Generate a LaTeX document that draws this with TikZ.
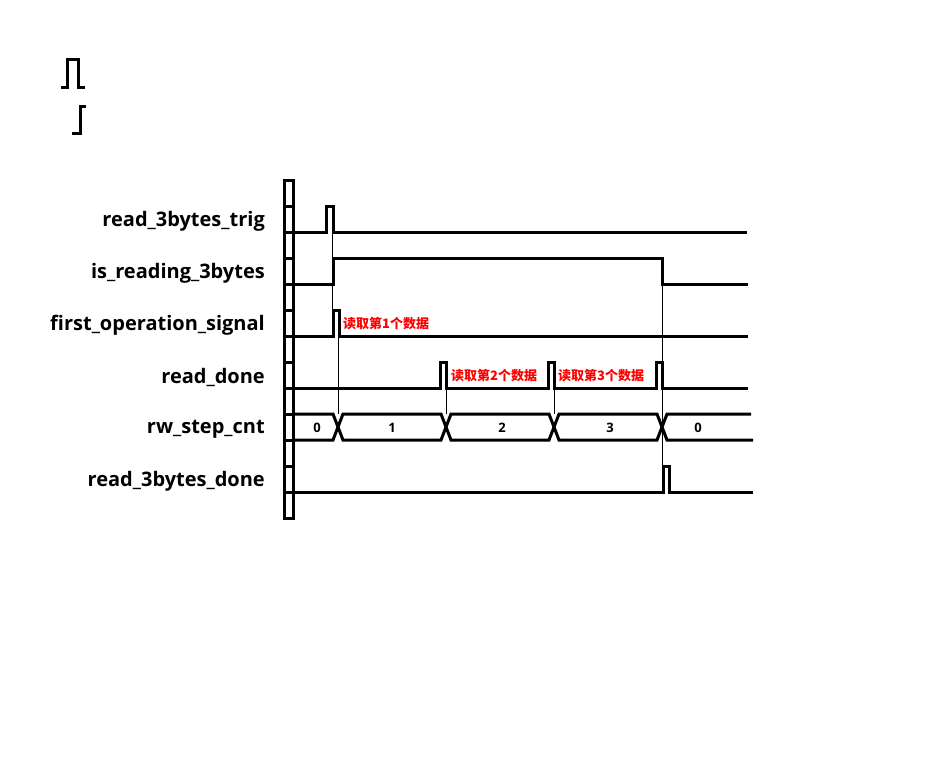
\documentclass[tikz,border=0pt]{standalone}
\usepackage{fontspec}
\usepackage{tikz}
\usetikzlibrary{positioning}
\newfontfamily\lab{Open Sans}
\newfontfamily\cjk{Noto Sans CJK SC}

\begin{document}
\begin{tikzpicture}[x=1pt,y=-1pt,
	wave/.style={line width=3pt},
	guide/.style={line width=0.8pt},
	sig/.style={anchor=east,inner sep=0pt,font=\lab\bfseries\fontsize{20}{20}\selectfont},
	note/.style={anchor=west,inner sep=0pt,text=red,font=\cjk\bfseries\fontsize{13}{13}\selectfont},
	val/.style={inner sep=0pt,font=\lab\bfseries\fontsize{13}{13}\selectfont}]
	\useasboundingbox (0,0) rectangle (928,776);
	
	% legend symbols
	\draw[wave] (61,87) -- (67,87) -- (67,60) -- (78,60) -- (78,87) -- (85,87);
	\draw[wave] (72,133) -- (80,133) -- (80,106) -- (86,106);
	
	% ruler
	\draw[wave] (284,180) rectangle (293,518);
	\foreach \y in {206,232,...,492}
	\draw[wave] (284,\y) -- (293,\y);
	
	% signal names
	\foreach \n/\t [count=\i from 0] in {trig/read\_3bytes\_trig,reading/is\_reading\_3bytes,first/first\_operation\_signal,done/read\_done,cnt/rw\_step\_cnt,alldone/read\_3bytes\_done}
	\node[sig] (\n) at (265,221+52*\i) {\t};
	
	% waves
	\draw[wave] (293,232) -- (326,232) -- (326,206) -- (333,206) -- (333,232) -- (747,232);
	\draw[wave] (293,284) -- (333,284) -- (333,258) -- (662,258) -- (662,284) -- (748,284);
	\draw[wave] (293,336) -- (333,336) -- (333,310) -- (339,310) -- (339,336) -- (748,336);
	\draw[wave] (293,388) \foreach \x in {440,548,656} {-- (\x,388) -- (\x,362) -- (\x+6,362) -- (\x+6,388)} -- (748,388);
	\draw[wave] (293,492) -- (663,492) -- (663,466) -- (669,466) -- (669,492) -- (753,492);
	
	% rw_step_cnt bus
	\draw[wave] (293,414) -- (333,414) -- (338,427) -- (333,440) -- (293,440);
	\foreach \a/\b in {338/446,446/554,554/662}
	\draw[wave] (\a,427) -- (\a+5,414) -- (\b-5,414) -- (\b,427) -- (\b-5,440) -- (\a+5,440) -- cycle;
	\draw[wave] (751,414) -- (667,414) -- (662,427) -- (667,440) -- (753,440);
	\foreach \x/\v [count=\i] in {317/0,392/1,502/2,610/3,698/0}
	\node[val] (v\i) at (\x,428) {\v};
	
	% guides
	\draw[guide] (332.5,232) -- (332.5,336);
	\draw[guide] (338.5,336) -- (338.5,414);
	\draw[guide] (446,388) -- (446,414);
	\draw[guide] (554,388) -- (554,414);
	\draw[guide] (662,284) -- (662,492);
	
	% notes
	\node[note] (note1) at (343,324) {读取第1个数据};
	\node[note] (note2) at (451,376) {读取第2个数据};
	\node[note] (note3) at (558,376) {读取第3个数据};
\end{tikzpicture}
\end{document}
